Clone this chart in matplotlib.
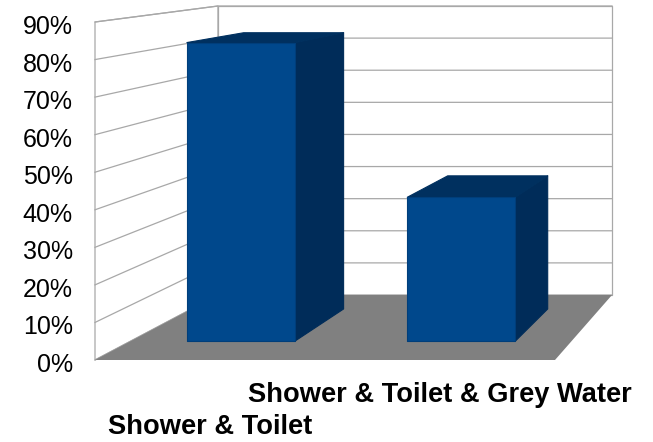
import matplotlib
matplotlib.use("Agg")
import matplotlib.pyplot as plt
from matplotlib.patches import Polygon
from matplotlib.ticker import PercentFormatter
from matplotlib.transforms import ScaledTranslation

plt.rcParams['font.family'] = ['Liberation Sans', 'DejaVu Sans']

# ---- data ----
categories = ["Shower & Toilet", "Shower & Toilet & Grey Water"]
values = [0.83, 0.40]
y_ticks = [0.0, 0.1, 0.2, 0.3, 0.4, 0.5, 0.6, 0.7, 0.8, 0.9]

# ---- styling / geometry (pixel layout of the oblique 3-D box) ----
W, H = 653, 442
VMAX = 0.9
NCAT = len(categories)
# front plane (depth 0) and back plane (depth 1) in pixels
FL, FR, FB, FT = 95, 555, 360, 22
BL, BR, BB, BT = 218, 612, 295, 6
BAR_W = 0.49         # fraction of category slot
Z0, Z1 = 0.29, 0.785  # bar depth range

C_FRONT = "#00488C"
C_SIDE = "#002C59"
C_TOP = "#00305F"
C_FLOOR = "#808080"
C_GRID = "#A8A8A8"

fig = plt.figure(figsize=(W / 100, H / 100), dpi=100)
ax = fig.add_axes([FL / W, 1 - FB / H, (FR - FL) / W, (FB - FT) / H])
ax.set_xlim(0, NCAT)
ax.set_ylim(0, VMAX)
for s in ax.spines.values():
    s.set_visible(False)


def proj(u, z, v):
    """3-D chart point (category units, depth 0..1, value) -> front-plane data coords."""
    left = FL + (BL - FL) * z
    right = FR + (BR - FR) * z
    px = left + u / NCAT * (right - left)
    y0 = FB + (BB - FB) * z
    ytop = FT + (BT - FT) * z
    py = y0 - v / VMAX * (y0 - ytop)
    U = (px - FL) / (FR - FL) * NCAT
    V = (FB - py) / (FB - FT) * VMAX
    return (U, V)


def poly(pts, fc, ec="none", lw=0.0, z=1):
    p = Polygon(pts, closed=True, facecolor=fc, edgecolor=ec, linewidth=lw,
                clip_on=False, zorder=z, joinstyle="round")
    ax.add_patch(p)

# walls
poly([proj(0, 0, 0), proj(0, 0, VMAX), proj(0, 1, VMAX), proj(0, 1, 0)], "white", C_GRID, 0.9, 1)
poly([proj(0, 1, 0), proj(0, 1, VMAX), proj(NCAT, 1, VMAX), proj(NCAT, 1, 0)], "white", C_GRID, 0.9, 1)
for t in y_ticks:
    a, b, c = proj(0, 0, t), proj(0, 1, t), proj(NCAT, 1, t)
    ax.plot([a[0], b[0], c[0]], [a[1], b[1], c[1]], color=C_GRID, lw=0.9,
            clip_on=False, zorder=2)

# floor
poly([proj(0, 0, 0), proj(NCAT, 0, 0), proj(NCAT, 1, 0), proj(0, 1, 0)], C_FLOOR, z=3)

# bars
for i, v in enumerate(values):
    u0 = i + 0.5 - BAR_W / 2
    u1 = i + 0.5 + BAR_W / 2
    # right side
    poly([proj(u1, Z0, 0), proj(u1, Z1, 0), proj(u1, Z1, v), proj(u1, Z0, v)],
         C_SIDE, C_SIDE, 0.8, 4)
    # top
    poly([proj(u0, Z0, v), proj(u1, Z0, v), proj(u1, Z1, v), proj(u0, Z1, v)],
         C_TOP, C_TOP, 0.8, 4)
    # front
    poly([proj(u0, Z0, 0), proj(u1, Z0, 0), proj(u1, Z0, v), proj(u0, Z0, v)],
         C_FRONT, "#003E7A", 0.8, 5)

# axis ticks / labels
ax.set_yticks(y_ticks)
ax.yaxis.set_major_formatter(PercentFormatter(1.0, decimals=0))
ax.tick_params(axis='y', length=0, pad=16, labelsize=18, labelcolor="black")
ax.set_xticks([i + 0.5 for i in range(NCAT)])
ax.set_xticklabels(categories, fontsize=19.6, fontweight="bold")
ax.tick_params(axis='x', length=0, labelsize=19.6)
ticks = ax.xaxis.get_major_ticks()
ticks[0].set_pad(39)
ticks[1].set_pad(16)

off = ScaledTranslation(0, -2.5 / 100, fig.dpi_scale_trans)
for lbl in ax.get_yticklabels():
    lbl.set_transform(lbl.get_transform() + off)

fig.savefig("out.png", dpi=100)
